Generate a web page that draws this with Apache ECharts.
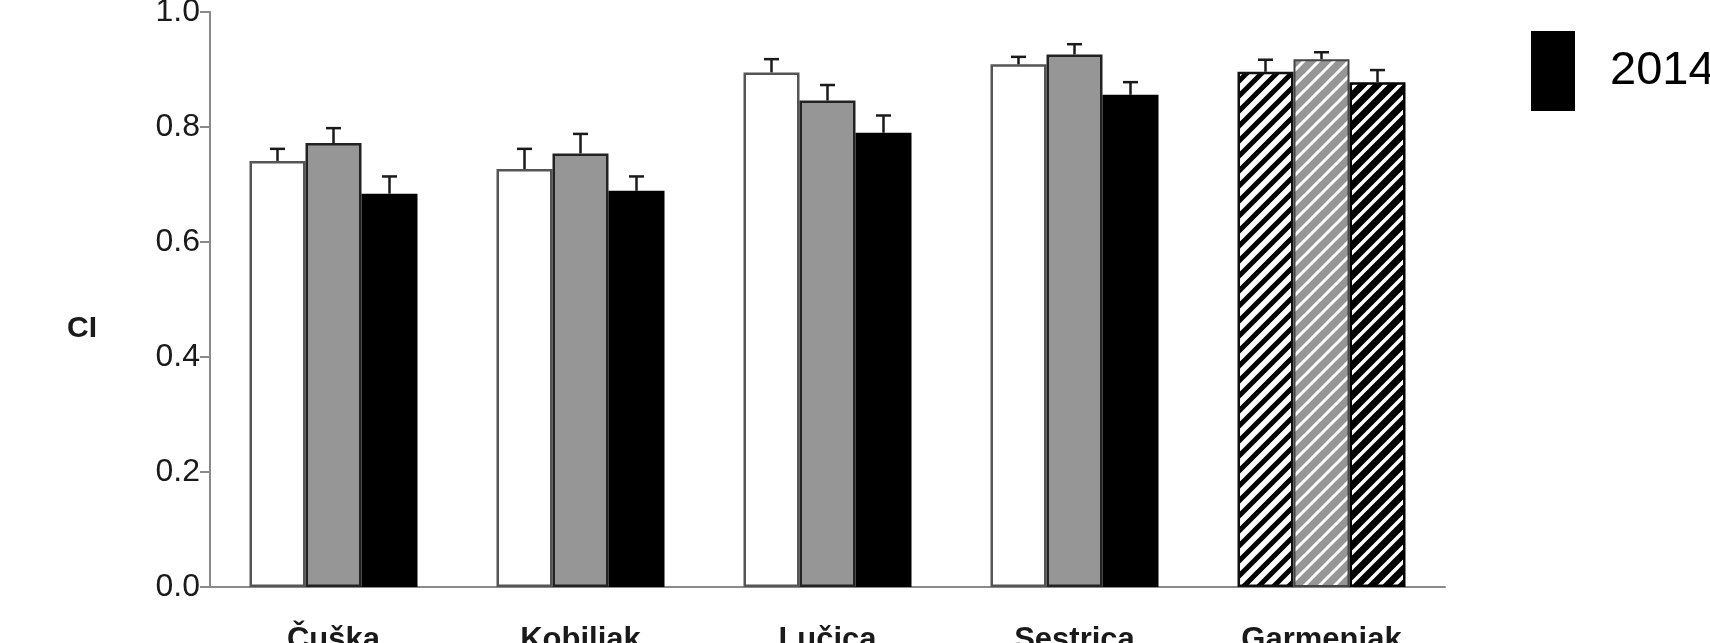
<!DOCTYPE html>
<html>
<head>
<meta charset="utf-8">
<script src="https://cdn.jsdelivr.net/npm/echarts@6/dist/echarts.min.js"></script>
<style>
  html, body { margin: 0; padding: 0; background: #fff; }
  #chart { width: 1710px; height: 643px; }
</style>
</head>
<body>
<div id="chart"></div>
<script>
// site names and CI values (mean + upper error)
const categories = ['Čuška', 'Kobiljak', 'Lučica', 'Sestrica', 'Garmenjak'];
const yTicks = [0, 0.2, 0.4, 0.6, 0.8, 1.0];

const ci2012 = [0.741, 0.727, 0.895, 0.909, 0.896];
const ci2013 = [0.772, 0.754, 0.846, 0.926, 0.918];
const ci2014 = [0.684, 0.689, 0.790, 0.856, 0.878];

const se2012 = [0.021, 0.035, 0.023, 0.013, 0.021];
const se2013 = [0.026, 0.034, 0.027, 0.018, 0.012];
const se2014 = [0.030, 0.025, 0.030, 0.022, 0.021];

const BAR_W = 56;
const FONT = '"Liberation Sans", Arial, sans-serif';

// diagonal stripe fill for the last group
function stripes(bg, fg, lw) {
    const s = 15;
    const c = document.createElement('canvas');
    c.width = s;
    c.height = s;
    const ctx = c.getContext('2d');
    ctx.fillStyle = bg;
    ctx.fillRect(0, 0, s, s);
    ctx.strokeStyle = fg;
    ctx.lineWidth = lw;
    ctx.beginPath();
    ctx.moveTo(-s, 2 * s); ctx.lineTo(2 * s, -s);
    ctx.moveTo(-s, s); ctx.lineTo(s, -s);
    ctx.moveTo(0, 2 * s); ctx.lineTo(2 * s, 0);
    ctx.stroke();
    return { image: c, repeat: 'repeat' };
}

const hatch = [
    { color: stripes('#ffffff', '#000000', 5), borderColor: '#111', borderWidth: 2.5 },
    { color: stripes('#969696', '#ffffff', 3), borderColor: '#444', borderWidth: 2 },
    { color: stripes('#000000', '#ffffff', 3.5), borderColor: '#000', borderWidth: 2.5 },
];

function barData(vals, k) {
    return vals.map((v, i) => i === categories.length - 1 ? { value: v, itemStyle: hatch[k] } : v);
}

function errSeries(vals, ses, slot) {
    return {
        type: 'custom',
        name: 'err' + slot,
        z: 5,
        silent: true,
        encode: { x: 0, y: 1 },
        data: vals.map((v, i) => [i, v + ses[i], v]),
        renderItem: (params, api) => {
            const base = api.coord([api.value(0), api.value(2)]);
            const top = api.coord([api.value(0), api.value(1)]);
            const x = base[0] + slot * BAR_W;
            const st = { stroke: '#1a1a1a', lineWidth: 2.5 };
            return {
                type: 'group',
                children: [
                    { type: 'line', shape: { x1: x, y1: base[1], x2: x, y2: top[1] }, style: st },
                    { type: 'line', shape: { x1: x - 7.5, y1: top[1], x2: x + 7.5, y2: top[1] }, style: st },
                ],
            };
        },
    };
}

const chart = echarts.init(document.getElementById('chart'));

chart.setOption({
    backgroundColor: '#fff',
    animation: false,
    textStyle: { fontFamily: FONT },
    grid: { left: 210, right: 265, top: 12, bottom: 56, containLabel: false, outerBoundsMode: 'none' },
    legend: {
        data: ['2014'],
        left: 1526,
        top: 26,
        icon: 'rect',
        itemWidth: 42,
        itemHeight: 78,
        textStyle: { fontSize: 47, color: '#000', fontFamily: FONT, padding: [0, 0, 0, 31] },
    },
    graphic: [
        {
            type: 'text',
            x: 82,
            y: 329,
            style: {
                text: 'CI',
                fontSize: 30,
                fontWeight: 'bold',
                fontFamily: FONT,
                fill: '#1a1a1a',
                align: 'center',
                verticalAlign: 'middle',
            },
        },
    ],
    xAxis: {
        type: 'category',
        data: categories,
        axisLine: { lineStyle: { color: '#8a8a8a', width: 2 } },
        axisTick: { length: 10, lineStyle: { color: '#8a8a8a', width: 2 } },
        axisLabel: {
            margin: 38,
            fontSize: 31,
            fontWeight: 'bold',
            color: '#1a1a1a',
            fontFamily: FONT,
        },
    },
    yAxis: {
        type: 'value',
        min: yTicks[0],
        max: yTicks[yTicks.length - 1],
        interval: 0.2,
        axisLine: { show: true, lineStyle: { color: '#8a8a8a', width: 2 } },
        axisTick: { show: true, length: 10, lineStyle: { color: '#8a8a8a', width: 2 } },
        splitLine: { show: false },
        axisLabel: {
            margin: 10,
            fontSize: 32,
            color: '#1a1a1a',
            fontFamily: FONT,
            formatter: (v) => v.toFixed(1),
        },
    },
    series: [
        {
            type: 'bar',
            name: '2012',
            barWidth: BAR_W,
            barGap: '0%',
            data: barData(ci2012, 0),
            itemStyle: { color: '#ffffff', borderColor: '#555', borderWidth: 2.5 },
        },
        {
            type: 'bar',
            name: '2013',
            barWidth: BAR_W,
            barGap: '0%',
            data: barData(ci2013, 1),
            itemStyle: { color: '#969696', borderColor: '#222', borderWidth: 2.5 },
        },
        {
            type: 'bar',
            name: '2014',
            barWidth: BAR_W,
            barGap: '0%',
            data: barData(ci2014, 2),
            itemStyle: { color: '#000000', borderColor: '#000', borderWidth: 2 },
        },
        errSeries(ci2012, se2012, -1),
        errSeries(ci2013, se2013, 0),
        errSeries(ci2014, se2014, 1),
    ],
});
</script>
</body>
</html>
